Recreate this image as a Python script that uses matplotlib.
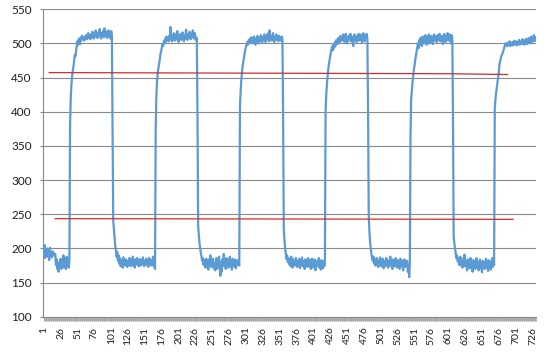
import numpy as np
import matplotlib
matplotlib.use("Agg")
import matplotlib.pyplot as plt

# blue signal (one value per category)
low0 = [192, 205, 186, 198, 190, 200, 188, 195, 183, 201,
        190, 192, 187, 196, 191, 193, 189, 192, 176, 184,
        170, 178, 166, 180, 172, 185, 170, 182, 176, 190,
        172, 186, 178, 170, 188, 175, 184, 172, 182]
up1 = [380, 421, 440, 452, 460, 466, 474, 483, 481, 490,
       496, 503, 498, 507, 504, 499, 509, 505, 511, 506,
       508, 504, 510, 507, 512, 506, 509, 515, 508, 511,
       506, 513, 509, 517, 510, 507, 514, 511, 519, 509,
       512, 508, 516, 513, 521, 510, 507, 515, 512, 518,
       509, 522, 514, 510, 517, 508, 513, 519, 511, 516,
       507, 518, 512]
down1 = [385, 241, 228, 216, 204, 198, 188, 195, 182, 190,
         178, 186, 174, 183, 180, 172, 187, 176, 181, 175,
         184, 178, 173, 182, 176, 186, 179, 174, 183, 177,
         188, 175, 180, 172, 184, 178, 186, 176, 181, 174,
         185, 179, 175, 183, 177, 187, 180, 174, 182, 178,
         185, 176, 181, 173, 186, 179, 184, 175, 182, 177,
         188, 174, 180, 170]
up2 = [372, 424, 444, 457, 463, 469, 476, 484, 489, 493,
       499, 496, 503, 500, 507, 502, 510, 505, 508, 503,
       511, 506, 524, 507, 503, 512, 508, 515, 504, 509,
       513, 506, 518, 509, 502, 511, 507, 514, 505, 510,
       516, 508, 503, 512, 507, 520, 510, 505, 513, 508,
       517, 511, 506, 514, 509, 519, 512, 507, 515, 510,
       505, 508]
down2 = [392, 232, 219, 208, 200, 193, 188, 182, 186, 176,
         183, 178, 172, 185, 174, 180, 169, 184, 176, 190,
         173, 181, 178, 185, 171, 179, 168, 176, 186, 170,
         182, 175, 188, 172, 160, 180, 166, 184, 177, 192,
         174, 181, 170, 186, 176, 183, 172, 179, 188, 174,
         182, 169, 185, 177, 180, 173, 184, 171, 181, 176,
         183, 178, 175]
up3 = [408, 430, 446, 458, 467, 474, 480, 486, 491, 495,
       499, 502, 498, 505, 501, 507, 503, 509, 500, 506,
       502, 510, 504, 498, 507, 503, 511, 505, 500, 508,
       504, 512, 506, 501, 509, 505, 513, 507, 502, 510,
       506, 514, 508, 503, 519, 507, 511, 504, 509, 515,
       506, 502, 510, 507, 513, 505, 509, 503, 511, 506,
       508, 504, 510, 506]
down3 = [395, 228, 212, 200, 192, 185, 190, 180, 186, 177,
         183, 174, 188, 179, 172, 184, 176, 181, 175, 186,
         178, 173, 182, 177, 185, 171, 180, 176, 187, 174,
         182, 178, 170, 184, 176, 181, 173, 186, 179, 175,
         183, 170, 178, 185, 172, 180, 176, 184, 168, 179,
         174, 182, 177, 186, 172, 180, 169, 183, 176, 171,
         181, 174, 178]
up4 = [398, 425, 440, 452, 462, 470, 476, 482, 488, 492,
       496, 490, 499, 494, 502, 497, 505, 499, 503, 508,
       500, 506, 511, 503, 509, 505, 513, 507, 502, 510,
       514, 506, 500, 509, 504, 512, 508, 514, 503, 510,
       506, 496, 508, 513, 505, 509, 502, 511, 507, 514,
       504, 509, 513, 506, 501, 510, 515, 507, 503, 512,
       508, 514, 506]
down4 = [405, 250, 225, 210, 200, 192, 186, 182, 188, 178,
         184, 175, 181, 186, 177, 173, 183, 179, 187, 174,
         180, 176, 185, 171, 182, 178, 174, 186, 179, 183,
         172, 180, 176, 188, 175, 181, 170, 184, 177, 182,
         174, 186, 179, 172, 183, 176, 181, 170, 185, 178,
         174, 182, 168, 177, 184, 173, 180, 175, 182, 166,
         176, 158, 180]
up5 = [365, 420, 430, 444, 453, 462, 468, 476, 482, 488,
       495, 500, 493, 505, 498, 508, 502, 496, 510, 504,
       500, 507, 512, 503, 498, 509, 505, 513, 500, 507,
       503, 511, 506, 499, 508, 513, 504, 510, 507, 502,
       512, 505, 509, 514, 503, 508, 511, 505, 499, 510,
       514, 506, 502, 511, 508, 515, 504, 509, 513, 506,
       500, 512, 507]
down5 = [392, 218, 208, 200, 193, 186, 190, 181, 186, 176,
         183, 188, 175, 180, 172, 185, 178, 191, 174, 182,
         177, 168, 184, 176, 180, 171, 186, 174, 179, 166,
         183, 175, 181, 170, 178, 186, 173, 180, 168, 177,
         184, 171, 179, 165, 182, 174, 180, 170, 176, 185,
         172, 179, 167, 183, 174, 180, 169, 177, 186, 173,
         181, 176]
up6 = [405, 418, 428, 436, 444, 451, 458, 470, 474, 479,
       482, 484, 487, 490, 494, 497, 500, 498, 496, 501,
       497, 499, 503, 496, 500, 498, 502, 497, 501, 504,
       498, 500, 503, 497, 502, 499, 505, 498, 501, 503,
       499, 506, 500, 502, 498, 505, 501, 507, 499, 504,
       502, 508, 500, 505, 510, 502, 507, 504, 512, 503,
       509, 506]

signal = (low0 + up1 + down1 + up2 + down2 + up3 + down3
          + up4 + down4 + up5 + down5 + up6)

# the two red reference lines
upper_x = [9, 260, 600, 689]
upper_y = [457.3, 456.6, 455.6, 454.5]
lower_x = [18, 697]
lower_y = [243.6, 242.6]

n = len(signal)
cats = np.arange(1, n + 1)
tick_cats = list(range(1, n + 1, 25))

fig = plt.figure(figsize=(5.5, 3.54), dpi=100)
ax = fig.add_axes([0.079, 0.105, 0.896, 0.869])

grid_c = "#898989"
for v in range(150, 551, 50):
    ax.axhline(v, color=grid_c, lw=0.8, zorder=1)

ax.plot(cats, signal, color="#5B9BD5", lw=1.6, zorder=3)
ax.plot(upper_x, upper_y, color="#d8292c", lw=0.9, zorder=4)
ax.plot(lower_x, lower_y, color="#d8292c", lw=0.9, zorder=4)

ax.set_xlim(0.5, n + 0.5)
ax.set_ylim(100, 550)
ax.set_yticks(range(100, 551, 50))
ax.set_xticks(tick_cats)
ax.set_xticks(cats, minor=True)
ax.set_xticklabels([str(c) for c in tick_cats], rotation=90)

for s in ["top", "right"]:
    ax.spines[s].set_visible(False)
for s in ["left", "bottom"]:
    ax.spines[s].set_color(grid_c)
    ax.spines[s].set_linewidth(0.8)

ax.tick_params(axis="x", which="both", length=3.0, width=0.5, color="#999999",
               direction="out", pad=4, labelsize=7.5, labelcolor="#1e1e1e")
ax.tick_params(axis="y", length=2.5, width=0.8, color=grid_c,
               pad=6, labelsize=8.5, labelcolor="#1e1e1e")
for lab in ax.get_xticklabels() + ax.get_yticklabels():
    lab.set_family(["Lato", "DejaVu Sans"])

fig.savefig("out.png", dpi=100)
plt.close(fig)
